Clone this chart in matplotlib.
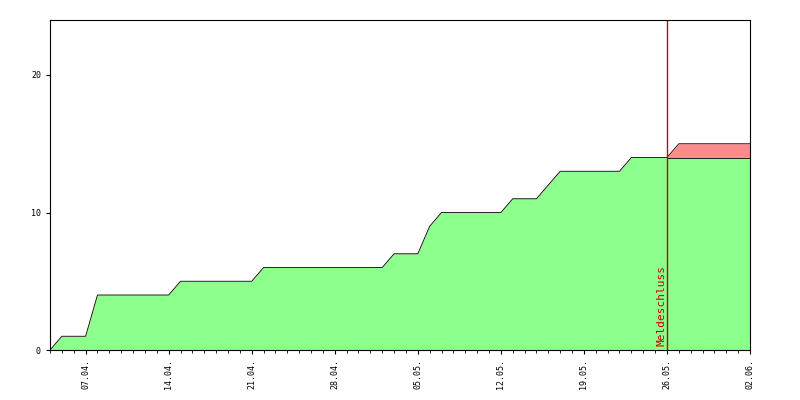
import matplotlib
matplotlib.use("Agg")
import matplotlib.pyplot as plt
import matplotlib.dates as mdates
import numpy as np
import datetime as dt

start = dt.date(2024, 4, 4)
# registrations per day (green = before deadline, total incl. late = red top)
green = [0, 1, 1, 1, 4, 4, 4, 4, 4, 4, 4, 5, 5, 5, 5, 5, 5, 5, 6, 6, 6, 6, 6, 6,
         6, 6, 6, 6, 6, 7, 7, 7, 9, 10, 10, 10, 10, 10, 10, 11, 11, 11, 12, 13,
         13, 13, 13, 13, 13, 14, 14, 14, 14, 14, 14, 14, 14, 14, 14, 14]
total = green[:53] + [15, 15, 15, 15, 15, 15, 15]
deadline = dt.date(2024, 5, 26)
tick_dates = [dt.date(2024, 4, 7) + dt.timedelta(days=7 * i) for i in range(9)]

days = [start + dt.timedelta(days=i) for i in range(len(green))]

fig = plt.figure(figsize=(8, 4), dpi=100)
ax = fig.add_axes([50 / 800, 50 / 400, 700 / 800, 330 / 400])
ax.fill_between(days, 0, total, color="#ff8c8c", linewidth=0)
ax.fill_between(days, 0, green, color="#8cff8c", linewidth=0)
ax.plot(days, total, color="black", linewidth=0.6)
ax.plot(days[52:], green[52:], color="black", linewidth=0.6)
ax.axvline(deadline, color="#cc0000", linewidth=1)
ax.text(deadline - dt.timedelta(days=0.15), 0.3, "Meldeschluss", rotation=90,
        color="#cc0000", ha="right", va="bottom", family="DejaVu Sans Mono", fontsize=8)

ax.set_xlim(days[0], days[-1])
ax.set_ylim(0, 24)
ax.set_yticks([0, 10, 20])
ax.set_yticks(range(0, 25), minor=False) if False else None
ax.set_xticks(tick_dates)
ax.xaxis.set_major_formatter(mdates.DateFormatter("%d.%m."))
ax.xaxis.set_minor_locator(mdates.DayLocator())
for lab in ax.get_xticklabels():
    lab.set_rotation(90)
ax.tick_params(labelsize=6, length=3, direction="out")
ax.tick_params(which="minor", length=2)
for lab in ax.get_xticklabels() + ax.get_yticklabels():
    lab.set_family("DejaVu Sans Mono")
for s in ax.spines.values():
    s.set_linewidth(0.8)
fig.savefig("out.png")
